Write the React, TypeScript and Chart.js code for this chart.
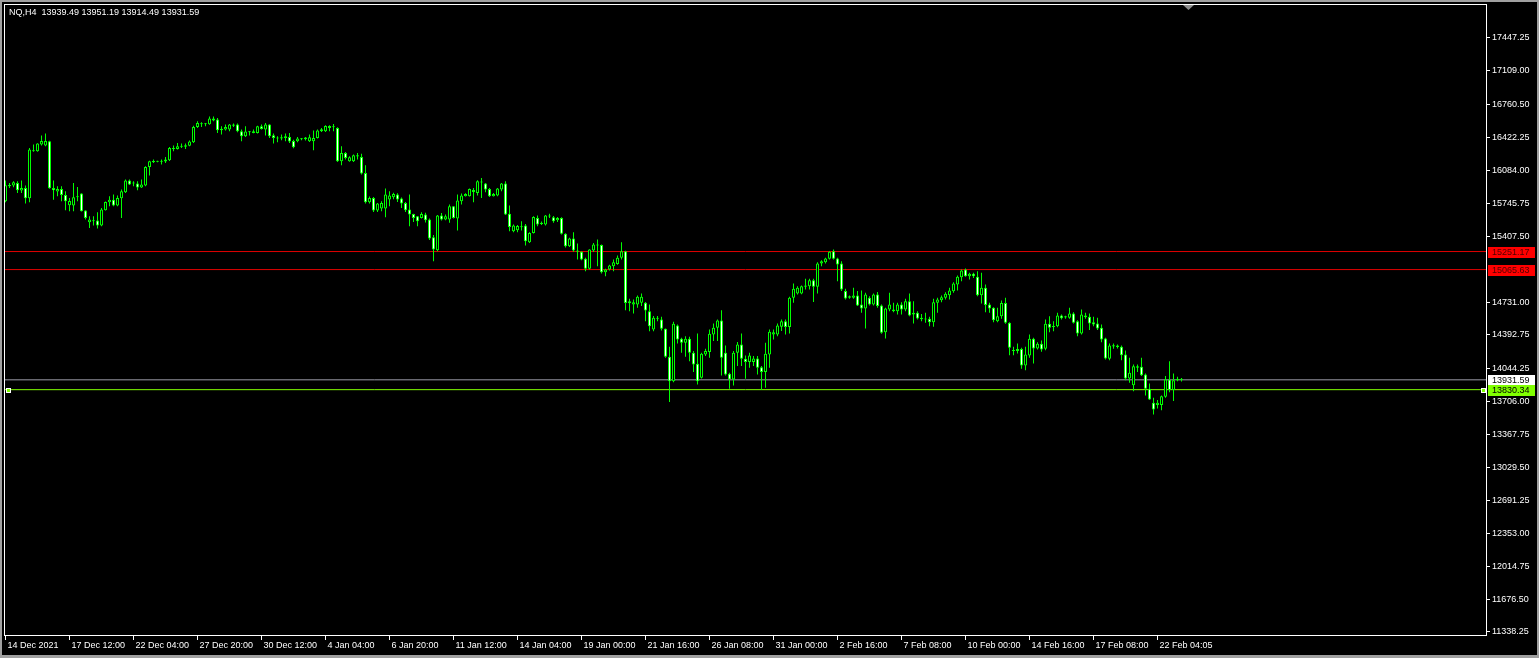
import React, { useEffect, useRef } from 'react';
import { Chart, registerables } from 'chart.js';

Chart.register(...registerables);

const W = 1539;
const H = 658;

const titleText = 'NQ,H4  13939.49 13951.19 13914.49 13931.59';

const opens = [
  15768,15923,15929,15957,15878,15905,15799,16282,16282,16351,
  16341,16385,15905,15868,15895,15833,15727,15724,15810,15847,
  15672,15553,15563,15570,15518,15676,15758,15785,15724,15799,
  15861,15981,15957,15950,15909,15929,16121,16169,16183,16175,
  16176,16190,16317,16305,16334,16330,16338,16375,16533,16567,
  16560,16560,16620,16608,16498,16505,16505,16557,16557,16488,
  16437,16478,16471,16471,16539,16505,16557,16447,16420,16413,
  16420,16430,16389,16385,16405,16406,16385,16385,16420,16488,
  16488,16522,16530,16522,16179,16265,16179,16179,16241,16224,
  16060,15758,15802,15672,15693,15693,15786,15810,15837,15796,
  15751,15683,15638,15614,15597,15631,15580,15398,15265,15621,
  15580,15580,15717,15590,15768,15820,15820,15885,15854,15960,
  15950,15895,15820,15827,15888,15950,15641,15460,15470,15511,
  15518,15347,15443,15597,15535,15529,15621,15604,15573,15597,
  15433,15306,15385,15261,15248,15176,15073,15261,15323,15319,
  15039,15066,15100,15124,15186,15254,14740,14707,14707,14724,
  14724,14638,14450,14570,14553,14457,14169,13918,14491,14354,
  14313,14354,14210,14097,13953,14193,14217,14398,14467,14542,
  14210,13994,13935,14210,14296,14148,14114,14114,14152,14062,
  14011,14193,14398,14398,14477,14535,14474,14775,14820,14820,
  14888,14895,14957,14888,15128,15142,15176,15255,15180,15128,
  14844,14792,14775,14799,14707,14666,14775,14707,14810,14696,
  14422,14655,14655,14638,14706,14655,14741,14604,14621,14569,
  14559,14559,14525,14724,14751,14775,14802,14843,14912,14987,
  15066,14998,15022,14991,14802,14878,14706,14672,14535,14586,
  14723,14518,14237,14227,14250,14079,14182,14353,14254,14302,
  14251,14508,14474,14484,14593,14572,14569,14614,14535,14408,
  14593,14580,14525,14511,14467,14357,14148,14275,14285,14271,
  14192,13946,13877,14072,14065,13987,13839,13696,13672,13672,
  13757,13935,13826,13928,13939.49,
];

const highs = [
  15981,15957,15974,15974,15981,15929,16317,16351,16365,16444,
  16464,16390,15981,15923,15923,15871,15803,15957,15916,15850,
  15675,15614,15614,15655,15700,15765,15820,15837,15827,15888,
  15991,15991,15974,15974,15991,16128,16186,16197,16186,16197,
  16224,16327,16341,16368,16361,16361,16392,16546,16591,16580,
  16574,16640,16640,16625,16539,16557,16563,16567,16567,16505,
  16539,16490,16505,16546,16557,16574,16560,16464,16437,16454,
  16464,16471,16402,16430,16420,16430,16454,16495,16505,16522,
  16550,16550,16563,16529,16334,16276,16231,16248,16265,16258,
  16138,15816,15812,15750,15768,15899,15871,15857,15850,15806,
  15760,15837,15640,15617,15655,15650,15590,15420,15628,15648,
  15631,15734,15720,15837,15847,15850,15899,15905,15984,16008,
  15957,15905,15854,15905,15957,15974,15724,15530,15525,15563,
  15535,15450,15614,15621,15560,15628,15641,15617,15607,15604,
  15440,15392,15450,15333,15254,15186,15275,15340,15374,15323,
  15073,15114,15169,15210,15347,15258,14765,14758,14799,14820,
  14731,14707,14587,14587,14580,14460,14272,14529,14501,14364,
  14381,14374,14227,14409,14210,14251,14450,14511,14552,14648,
  14285,14004,14227,14320,14409,14182,14210,14176,14176,14073,
  14313,14450,14450,14511,14553,14553,14785,14923,14895,14902,
  14970,14970,14970,15142,15162,15186,15255,15272,15186,15152,
  14868,14800,14878,14844,14851,14827,14792,14820,14834,14707,
  14672,14827,14724,14724,14730,14765,14819,14741,14638,14610,
  14621,14580,14765,14775,14799,14833,14878,14936,15004,15066,
  15076,15032,15032,15049,15032,14912,14724,14679,14672,14747,
  14775,14525,14271,14305,14261,14271,14398,14364,14319,14336,
  14552,14586,14535,14621,14604,14590,14672,14628,14545,14655,
  14621,14614,14580,14569,14501,14364,14305,14305,14295,14285,
  14233,14158,14089,14089,14158,13997,13894,13747,13723,13771,
  13970,14124,13997,13963,13951.19,
];

const lows = [
  15758,15905,15912,15854,15854,15744,15758,16278,16278,16341,
  16334,15898,15785,15820,15768,15676,15666,15666,15768,15662,
  15580,15494,15518,15487,15511,15672,15717,15717,15717,15597,
  15854,15936,15923,15881,15905,15923,16032,16162,16170,16145,
  16162,16183,16282,16300,16317,16306,16334,16368,16522,16533,
  16539,16555,16590,16471,16454,16495,16488,16533,16478,16385,
  16430,16444,16468,16464,16505,16444,16420,16361,16375,16395,
  16385,16368,16313,16375,16395,16392,16378,16293,16413,16481,
  16481,16488,16488,16173,16138,16197,16175,16173,16197,16043,
  15744,15744,15658,15658,15666,15604,15717,15790,15760,15700,
  15659,15511,15556,15511,15590,15550,15370,15152,15254,15570,
  15573,15546,15590,15467,15734,15816,15816,15758,15827,15803,
  15861,15813,15816,15820,15871,15628,15460,15450,15450,15467,
  15313,15340,15436,15511,15525,15520,15597,15546,15556,15426,
  15292,15299,15248,15169,15162,15049,15066,15247,15100,15025,
  14998,15056,15049,15114,15169,14648,14638,14614,14672,14690,
  14535,14432,14432,14535,14440,14160,13703,13908,14306,14210,
  14169,14124,14011,13884,13946,14176,14159,14330,14330,13977,
  13977,13840,13874,14073,14073,13942,14056,14073,13987,13826,
  13850,14056,14347,14381,14433,14398,14409,14724,14810,14813,
  14861,14861,14731,14820,15101,15128,15169,15169,14946,14844,
  14758,14765,14765,14690,14621,14460,14696,14696,14672,14405,
  14357,14638,14628,14604,14604,14638,14586,14511,14552,14535,
  14518,14484,14477,14621,14730,14758,14758,14826,14850,14946,
  14991,14963,14980,14792,14717,14628,14621,14525,14525,14559,
  14508,14185,14185,14203,14045,14031,14158,14100,14244,14220,
  14237,14422,14432,14473,14552,14560,14559,14511,14381,14398,
  14559,14443,14484,14443,14319,14141,14134,14251,14255,14134,
  13928,13901,13815,14011,13970,13771,13723,13575,13637,13620,
  13747,13805,13713,13918,13914.49,
];

const closes = [
  15933,15936,15964,15881,15905,15799,16300,16293,16361,16389,
  16389,15902,15881,15895,15833,15768,15772,15810,15813,15666,
  15597,15580,15570,15518,15683,15761,15785,15724,15803,15871,
  15981,15940,15950,15909,15940,16121,16180,16183,16175,16180,
  16197,16317,16305,16334,16330,16345,16382,16533,16574,16560,
  16564,16620,16600,16498,16515,16533,16557,16545,16488,16437,
  16485,16488,16488,16539,16512,16557,16437,16420,16413,16427,
  16437,16382,16324,16413,16410,16423,16426,16420,16495,16509,
  16543,16543,16536,16179,16265,16214,16221,16241,16228,16053,
  15758,15803,15672,15744,15751,15837,15827,15844,15786,15744,
  15676,15631,15597,15563,15638,15573,15385,15271,15621,15580,
  15614,15717,15597,15775,15827,15844,15895,15864,15974,15970,
  15888,15820,15844,15899,15950,15631,15504,15518,15515,15500,
  15357,15443,15607,15529,15546,15621,15611,15563,15597,15433,
  15306,15385,15261,15248,15169,15073,15271,15323,15313,15039,
  15066,15107,15141,15186,15254,14723,14720,14730,14785,14785,
  14645,14484,14570,14560,14457,14169,13918,14508,14347,14313,
  14354,14210,14090,13918,14200,14227,14405,14467,14542,14159,
  13987,13935,14210,14296,14148,14114,14183,14152,14056,14011,
  14200,14426,14422,14491,14535,14474,14775,14868,14878,14895,
  14902,14957,14888,15128,15152,15180,15248,15176,15118,14861,
  14768,14775,14799,14696,14666,14810,14707,14810,14690,14415,
  14666,14707,14638,14707,14655,14741,14593,14621,14562,14555,
  14552,14525,14730,14758,14782,14816,14850,14922,14991,15056,
  14998,15022,14997,14802,14878,14700,14665,14545,14586,14723,
  14518,14261,14227,14250,14079,14192,14353,14254,14302,14244,
  14508,14467,14484,14593,14565,14586,14614,14518,14408,14604,
  14576,14511,14501,14460,14347,14151,14285,14288,14270,14185,
  13946,14004,14072,14055,13980,13839,13730,13627,13696,13764,
  13935,13826,13928,13940,13931.59,
];

const xTickLabels = [
  '14 Dec 2021', '17 Dec 12:00', '22 Dec 04:00', '27 Dec 20:00', '30 Dec 12:00',
  '4 Jan 04:00', '6 Jan 20:00', '11 Jan 12:00', '14 Jan 04:00', '19 Jan 00:00',
  '21 Jan 16:00', '26 Jan 08:00', '31 Jan 00:00', '2 Feb 16:00', '7 Feb 08:00',
  '10 Feb 00:00', '14 Feb 16:00', '17 Feb 08:00', '22 Feb 04:05',
];
const barsPerXLabel = 16;

const yTickValues = [
  17447.25, 17109.0, 16760.5, 16422.25, 16084.0, 15745.75, 15407.5,
  14731.0, 14392.75, 14044.25, 13706.0, 13367.75, 13029.5, 12691.25,
  12353.0, 12014.75, 11676.5, 11338.25,
];

const levelRed1 = 15251.17;
const levelRed2 = 15065.63;
const levelBid = 13931.59;
const levelLime = 13830.34;

const X_MIN = -0.375;
const X_MAX = 370.375;
const Y_MIN = 11297.11;
const Y_MAX = 17796.92;

const FONT = "'Liberation Sans', Arial, sans-serif";
const LIME = '#00ff00';

const tags = [
  { value: levelRed1, bg: '#ff0000', fg: '#500000' },
  { value: levelRed2, bg: '#ff0000', fg: '#500000' },
  { value: levelBid, bg: '#ffffff', fg: '#000000' },
  { value: levelLime, bg: '#80ff00', fg: '#000000' },
];

const mtPlugin = {
  id: 'mt4frame',
  beforeDraw(chart: any) {
    const ctx = chart.ctx;
    ctx.save();
    ctx.fillStyle = '#000000';
    ctx.fillRect(0, 0, chart.width, chart.height);
    ctx.fillStyle = '#a0a0a0';
    ctx.fillRect(0, 0, chart.width, 2);
    ctx.fillRect(0, 0, 2, chart.height);
    ctx.fillRect(0, chart.height - 3, chart.width, 3);
    ctx.fillRect(chart.width - 2, 0, 2, chart.height);
    ctx.restore();
  },
  afterDraw(chart: any) {
    const ctx = chart.ctx;
    const { left, top, right, bottom } = chart.chartArea;
    const y = chart.scales.y;
    ctx.save();
    ctx.strokeStyle = '#ffffff';
    ctx.lineWidth = 1;
    ctx.strokeRect(left + 0.5, top + 0.5, right - left - 1, bottom - top - 1);

    ctx.font = `9px ${FONT}`;
    ctx.textAlign = 'left';
    ctx.textBaseline = 'middle';
    ctx.fillStyle = '#ffffff';
    ctx.fillText(titleText, 9, 13);

    for (const t of tags) {
      const py = Math.round(y.getPixelForValue(t.value));
      ctx.fillStyle = t.bg;
      ctx.fillRect(right + 1, py - 5, 47, 11);
      ctx.fillStyle = t.fg;
      ctx.fillText(t.value.toFixed(2), right + 5, py + 0.5);
    }

    const ly = Math.round(y.getPixelForValue(levelLime));
    for (const sx of [left + 2, right - 6]) {
      ctx.fillStyle = '#ffffff';
      ctx.fillRect(sx, ly - 2, 5, 5);
      ctx.fillStyle = '#80ff00';
      ctx.fillRect(sx + 1, ly - 1, 3, 3);
    }

    ctx.fillStyle = '#8c8c8c';
    ctx.beginPath();
    ctx.moveTo(1183, top + 1);
    ctx.lineTo(1194, top + 1);
    ctx.lineTo(1188.5, top + 6);
    ctx.closePath();
    ctx.fill();
    ctx.restore();
  },
};

function levelLine(value: number, color: string) {
  return {
    type: 'line' as const,
    data: [{ x: X_MIN, y: value }, { x: X_MAX, y: value }],
    borderColor: color,
    borderWidth: 1,
    pointRadius: 0,
    fill: false,
    order: 5,
  };
}

export default function App() {
  const ref = useRef<HTMLCanvasElement | null>(null);

  useEffect(() => {
    if (!ref.current) return;
    const idx = opens.map((_, i) => i);
    const bodyData = idx.map((i) => ({ x: i, y: [opens[i], closes[i]] }));
    const wickData = idx.map((i) => ({
      x: i,
      y: [Math.min(lows[i], opens[i], closes[i]), Math.max(highs[i], opens[i], closes[i])],
    }));
    const bodyFill = idx.map((i) => (closes[i] >= opens[i] ? '#000000' : '#ffffff'));

    const chart = new Chart(ref.current, {
      type: 'bar',
      data: {
        datasets: [
          {
            type: 'bar',
            data: bodyData as any,
            backgroundColor: bodyFill,
            borderColor: LIME,
            borderWidth: 1,
            borderSkipped: false,
            barThickness: 3,
            minBarLength: 1,
            inflateAmount: 0,
            grouped: false,
            order: 0,
          } as any,
          {
            type: 'bar',
            data: wickData as any,
            backgroundColor: LIME,
            borderWidth: 0,
            barThickness: 1,
            inflateAmount: 0,
            grouped: false,
            order: 1,
          } as any,
          levelLine(levelRed1, '#e00000') as any,
          levelLine(levelRed2, '#e00000') as any,
          levelLine(levelBid, '#9a9aa6') as any,
          levelLine(levelLime, '#80ff00') as any,
        ],
      },
      options: {
        animation: false,
        responsive: false,
        devicePixelRatio: 1,
        events: [],
        layout: { padding: { left: 4, top: 4, right: 0, bottom: 0 } },
        plugins: {
          legend: { display: false },
          tooltip: { enabled: false },
          title: { display: false },
        },
        scales: {
          x: {
            type: 'linear',
            position: 'bottom',
            offset: false,
            min: X_MIN,
            max: X_MAX,
            afterBuildTicks: (s: any) => {
              s.ticks = xTickLabels.map((_, k) => ({ value: k * barsPerXLabel }));
            },
            afterFit: (s: any) => {
              s.height = 22;
              s.paddingLeft = 0;
              s.paddingRight = 0;
            },
            grid: { offset: false, drawOnChartArea: false, drawTicks: true, tickLength: 4, color: '#ffffff' },
            border: { display: false },
            ticks: {
              autoSkip: false,
              maxRotation: 0,
              minRotation: 0,
              align: 'start',
              labelOffset: 2,
              padding: 0,
              color: '#ffffff',
              font: { family: FONT, size: 9 },
              callback: (v: any) => xTickLabels[Math.round(Number(v) / barsPerXLabel)] ?? '',
            },
          },
          y: {
            type: 'linear',
            position: 'right',
            min: Y_MIN,
            max: Y_MAX,
            afterBuildTicks: (s: any) => {
              s.ticks = yTickValues.map((v) => ({ value: v }));
            },
            afterFit: (s: any) => {
              s.width = 52;
              s.paddingTop = 0;
              s.paddingBottom = 0;
            },
            grid: { drawOnChartArea: false, drawTicks: true, tickLength: 3, color: '#ffffff' },
            border: { display: false },
            ticks: {
              padding: 2,
              color: '#ffffff',
              font: { family: FONT, size: 9 },
              callback: (v: any) => Number(v).toFixed(2),
            },
          },
        },
      } as any,
      plugins: [mtPlugin],
    });
    return () => chart.destroy();
  }, []);

  return (
    <div style={{ position: 'fixed', left: 0, top: 0, width: W, height: H, background: '#000' }}>
      <canvas ref={ref} width={W} height={H} style={{ display: 'block', width: W, height: H }} />
    </div>
  );
}
